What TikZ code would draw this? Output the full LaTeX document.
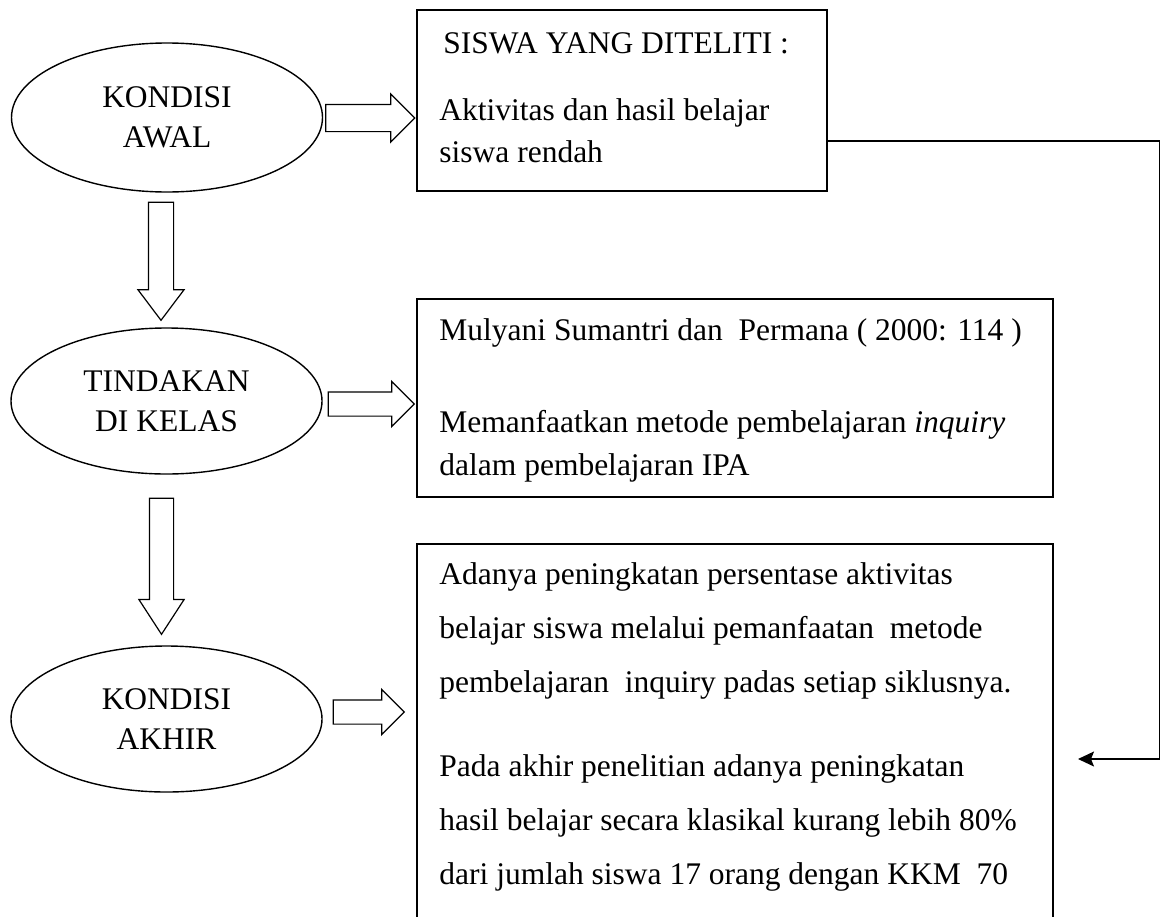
\documentclass[tikz,border=0pt]{standalone}
\usepackage{fontspec}
\setmainfont{Liberation Serif}
\usetikzlibrary{shapes.geometric,shapes.arrows}
\usetikzlibrary{arrows.meta,calc}

\begin{document}
\begin{tikzpicture}[x=0.5pt, y=-0.5pt,
    kondisi/.style={draw, ellipse, line width=0.7pt, inner sep=0pt, minimum width=155.5pt, minimum height=73pt, align=center, font=\fontsize{15.75}{20}\selectfont},
    kotak/.style={draw, rectangle, line width=0.7pt, inner sep=0pt},
    isi/.style={anchor=base west, inner sep=0pt, align=left},
    panah/.style={draw, single arrow, line width=0.6pt, inner xsep=0pt, inner ysep=5.75pt, minimum width=22pt, single arrow head extend=5.25pt, single arrow head indent=0pt, anchor=tail},
    garis/.style={line width=0.6pt}]

    \useasboundingbox (0,0) rectangle (1160,916);
    \clip (0,0) rectangle (1160,916);

    % kondisi di kiri
    \node[kondisi, minimum height=74.5pt] (awal) at (167,117.5) {KONDISI\\AWAL};
    \node[kondisi] (tindakan) at (166.5,401) {TINDAKAN\\DI KELAS};
    \node[kondisi] (akhir) at (166.5,719) {KONDISI\\AKHIR};

    % kotak keterangan
    \node[kotak, minimum width=205pt, minimum height=90.5pt] (kotak1) at (622,100.5) {};
    \node[kotak, minimum width=318pt, minimum height=99pt] (kotak2) at (735,398) {};
    \node[kotak, minimum width=318pt, minimum height=198pt] (kotak3) at (735,742) {};

    % isi kotak (titik acuan = garis dasar baris terakhir)
    \node[isi, font=\fontsize{15.75}{21}\selectfont] (teks1) at (439,162) {\hspace{2pt}SISWA YANG DITELITI :\\[12.5pt]Aktivitas dan hasil belajar\\siswa rendah};
    \node[isi, font=\fontsize{15.75}{21.5}\selectfont] (teks2) at (439,475) {Mulyani Sumantri dan\ \ Permana ( 2000: 114 )\\[24.5pt]Memanfaatkan metode pembelajaran \textit{inquiry}\\dalam pembelajaran IPA};
    \node[isi, font=\fontsize{15.75}{27}\selectfont] (teks3) at (439,884) {Adanya peningkatan persentase aktivitas\\belajar siswa melalui pemanfaatan\ \ metode\\pembelajaran\ \ inquiry padas setiap siklusnya.\\[15pt]Pada akhir penelitian adanya peningkatan\\hasil belajar secara klasikal kurang lebih 80\%\\dari jumlah siswa 17 orang dengan KKM\ \ 70};

    % panah blok
    \node[panah, minimum height=44.5pt, inner ysep=6.5pt] (p1) at ($(awal.east)+(2,0.5)$) {};
    \node[panah, minimum height=43pt] (p2) at ($(tindakan.east)+(5,3)$) {};
    \node[panah, minimum height=35.5pt] (p3) at ($(akhir.east)+(10,-7)$) {};
    \node[panah, rotate=-90, minimum height=59pt, inner ysep=6pt, minimum width=22.5pt, single arrow tip angle=74] (p4) at ($(awal.south)+(-6,9)$) {};
    \node[panah, rotate=-90, minimum height=68pt, single arrow tip angle=66] (p5) at ($(tindakan.south)+(-5,23)$) {};

    % garis balik
    \coordinate (ujung) at (1078,759);
    \draw[garis, -{Stealth[length=8pt,width=7.5pt,inset=1.5pt]}] ($(kotak1.east)+(0,40.5)$) -| (1159.5,759) -- (ujung);

\end{tikzpicture}
\end{document}
